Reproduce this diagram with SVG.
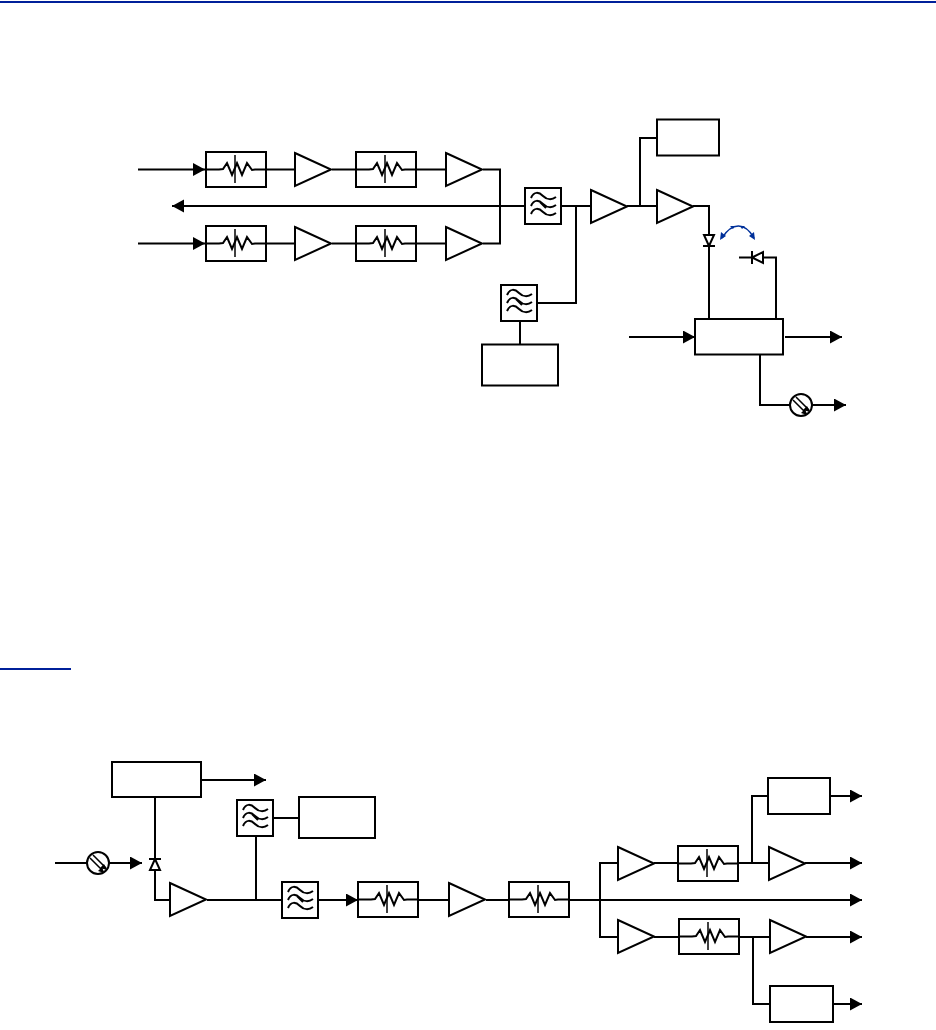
<svg xmlns="http://www.w3.org/2000/svg" xmlns:xlink="http://www.w3.org/1999/xlink" width="936" height="1030" viewBox="0 0 936 1030">
<style>
.b{fill:#fff;stroke:#000;stroke-width:2}
.s{fill:none;stroke:#000;stroke-width:1.5}
.t{fill:none;stroke:#000;stroke-width:2}
.w{fill:none;stroke:#000;stroke-width:2;stroke-linejoin:miter}
.c path{fill:none;stroke:#000;stroke-width:2}
.a{fill:#000;stroke:none}
</style>
<defs>
<g id="att"><rect class="b" x="0" y="0" width="60" height="35"/><polyline class="w" points="0,17.500 13,17.500 17,17 21,11 26,23 31,11 36,23 41,11 46,18 49,17.500 60,17.500"/><line class="s" x1="29" y1="3" x2="29" y2="31"/></g>
<g id="amp"><path class="b" d="M0,0 L36,16.500 L0,33 Z"/></g>
<g id="flt"><rect class="b" x="0" y="0" width="36" height="36"/><path class="t" d="M6,10 C9,3 14,4 18,8 C22,12 27,12 31,9 M6,18 C9,11 14,12 18,16 C22,20 27,20 31,17 M6,26 C9,19 14,20 18,24 C22,28 27,28 31,25 M15,14 L21,20"/></g>
<g id="iso"><circle class="b" cx="0" cy="0" r="11"/><path class="s" d="M-5,-8 L8,5 M-8,-5 L5,8"/><path class="a" d="M9,7 L2,5 L6,1 Z M6,10 L0,8 L4,4 Z"/></g>
<marker id="ar" markerUnits="userSpaceOnUse" markerWidth="13" markerHeight="14" refX="12" refY="6.500" orient="auto"><path d="M0,0 L12,6.500 L0,13 Z" fill="#000"/></marker>
</defs>
<rect x="0" y="0" width="936" height="1030" fill="#fff"/>
<rect x="0" y="1" width="936" height="2" fill="#00209a"/>
<rect x="0" y="668" width="71" height="2" fill="#00209a"/>
<g id="connectors" class="c">
<path marker-end="url(#ar)" d="M138,169.500 H205"/>
<path marker-end="url(#ar)" d="M138,243.500 H205"/>
<path d="M265,169.500 H295 M332,169.500 H356 M416,169.500 H446 M483,169.500 H500 V243.500 H483 M416,243.500 H446 M332,243.500 H356 M265,243.500 H295"/>
<path marker-end="url(#ar)" d="M525,206 H172"/>
<path d="M561,206 H591 M627,206 H657 M640,206 V138 H657"/>
<path d="M693,206 H709 V319"/>
<path d="M739,257.500 H776 V319"/>
<path d="M576,206 V303 H537 M520,321 V344"/>
<path marker-end="url(#ar)" d="M629,337 H695"/>
<path marker-end="url(#ar)" d="M785,337 H842"/>
<path marker-end="url(#ar)" d="M760,354 V405 H846"/>
<path marker-end="url(#ar)" d="M201,780 H266"/>
<path d="M155,797 V900 H170"/>
<path marker-end="url(#ar)" d="M55,863 H142"/>
<path d="M207,900 H282 M256,900 V835 M273,818 H299"/>
<path marker-end="url(#ar)" d="M318,900 H358"/>
<path d="M418,900 H449 M486,900 H509"/>
<path marker-end="url(#ar)" d="M569,900 H862"/>
<path d="M618,863 H600 V937 H618 M654,863 H678 M738,863 H769 M752,863 V796 H768 M654,937 H679 M739,937 H770 M753,937 V1004 H770"/>
<path marker-end="url(#ar)" d="M805,863 H862"/>
<path marker-end="url(#ar)" d="M806,937 H862"/>
<path marker-end="url(#ar)" d="M830,796 H862"/>
<path marker-end="url(#ar)" d="M833,1004 H862"/>
</g>
<g id="t-att1"><use href="#att" x="206" y="152"/></g>
<g id="t-amp1"><use href="#amp" x="295" y="153"/></g>
<g id="t-att2"><use href="#att" x="356" y="152"/></g>
<g id="t-amp2"><use href="#amp" x="446" y="153"/></g>
<g id="t-att3"><use href="#att" x="206" y="226"/></g>
<g id="t-amp3"><use href="#amp" x="295" y="227"/></g>
<g id="t-att4"><use href="#att" x="356" y="226"/></g>
<g id="t-amp4"><use href="#amp" x="446" y="227"/></g>
<g id="t-flt1"><use href="#flt" x="525" y="188"/></g>
<g id="t-amp5"><use href="#amp" x="591" y="190"/></g>
<g id="t-amp6"><use href="#amp" x="657" y="190"/></g>
<g id="t-box1"><rect class="b" x="657" y="119.500" width="62" height="36"/></g>
<g id="t-flt2"><use href="#flt" x="501" y="285"/></g>
<g id="t-box2"><rect class="b" x="482" y="344.500" width="76" height="41"/></g>
<g id="t-box3"><rect class="b" x="695" y="319" width="88" height="35.500"/></g>
<g id="t-iso"><use href="#iso" x="801" y="405"/></g>
<g id="t-d1"><path class="b" d="M704,235 H714 L709,246 Z"/><line class="t" x1="703" y1="246" x2="715" y2="246"/></g>
<g id="t-d2"><path class="b" d="M763,252 V263 L752,257.500 Z"/><line class="t" x1="752" y1="251" x2="752" y2="264"/></g>
<g id="t-swing"><path d="M722,238 C732,222 745,222 754,238" fill="none" stroke="#00309a" stroke-width="1.500"/><path d="M720,240 L721,232 L726,236 Z M755,240 L749,236 L754,232 Z M730,226 L735,226 L733,229 Z M745,226 L740,226 L742,229 Z" fill="#00309a"/></g>
<g id="b-box1"><rect class="b" x="112" y="762" width="89" height="35"/></g>
<g id="b-iso"><use href="#iso" x="98" y="863"/></g>
<g id="b-d"><path class="b" d="M150,870 H160 L155,859 Z"/><line class="t" x1="149" y1="859" x2="161" y2="859"/></g>
<g id="b-amp1"><use href="#amp" x="170" y="883"/></g>
<g id="b-flt1"><use href="#flt" x="237" y="800"/></g>
<g id="b-box2"><rect class="b" x="299" y="797" width="76" height="41"/></g>
<g id="b-flt2"><use href="#flt" x="282" y="882"/></g>
<g id="b-att1"><use href="#att" x="358" y="882"/></g>
<g id="b-amp2"><use href="#amp" x="449" y="883"/></g>
<g id="b-att2"><use href="#att" x="509" y="882"/></g>
<g id="b-amp3"><use href="#amp" x="618" y="847"/></g>
<g id="b-att3"><use href="#att" x="678" y="846"/></g>
<g id="b-amp4"><use href="#amp" x="769" y="847"/></g>
<g id="b-box3"><rect class="b" x="768" y="778" width="62" height="36"/></g>
<g id="b-amp5"><use href="#amp" x="618" y="920"/></g>
<g id="b-att4"><use href="#att" x="679" y="919"/></g>
<g id="b-amp6"><use href="#amp" x="770" y="920"/></g>
<g id="b-box4"><rect class="b" x="770" y="986" width="63" height="36"/></g>
</svg>
